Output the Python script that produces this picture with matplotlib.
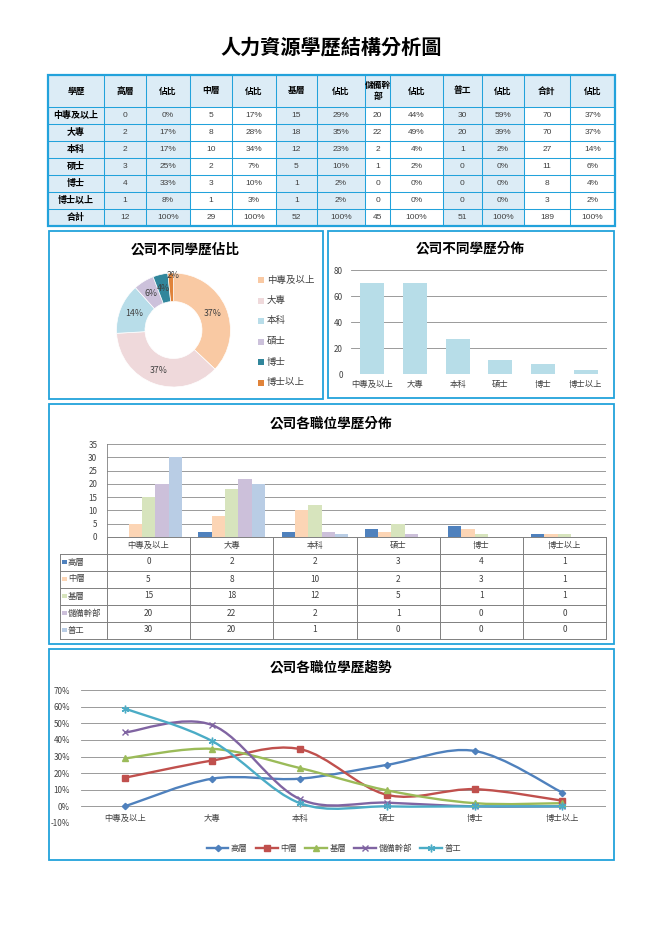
import matplotlib
matplotlib.use('Agg')
import matplotlib.pyplot as plt
from matplotlib.patches import Rectangle, PathPatch
from matplotlib.path import Path
from matplotlib.lines import Line2D
from matplotlib.ticker import PercentFormatter
import numpy as np

plt.rcParams['font.family'] = ['Noto Sans CJK TC', 'DejaVu Sans']
plt.rcParams['axes.unicode_minus'] = False

W, H = 662, 936

# ---------------- data ----------------
main_title = '人力資源學歷結構分析圖'
levels = ['中專及以上', '大專', '本科', '碩士', '博士', '博士以上']
positions = ['高層', '中層', '基層', '儲備幹部', '普工']
senior = [0, 2, 2, 3, 4, 1]
middle = [5, 8, 10, 2, 3, 1]
junior = [15, 18, 12, 5, 1, 1]
reserve = [20, 22, 2, 1, 0, 0]
worker = [30, 20, 1, 0, 0, 0]
level_totals = [70, 70, 27, 11, 8, 3]
header = ['學歷', '高層', '佔比', '中層', '佔比', '基層', '佔比', '儲備幹\n部', '佔比',
          '普工', '佔比', '合計', '佔比']
total_label = '合計'
pie_title = '公司不同學歷佔比'
bar_title = '公司不同學歷分佈'
cluster_title = '公司各職位學歷分佈'
line_title = '公司各職位學歷趨勢'
bar_yticks = [0, 20, 40, 60, 80]
cluster_yticks = [0, 5, 10, 15, 20, 25, 30, 35]
line_yticks = [-0.1, 0, 0.1, 0.2, 0.3, 0.4, 0.5, 0.6, 0.7]

series = [senior, middle, junior, reserve, worker]
pos_colors = ['#4F81BD', '#FCD5B5', '#D7E4BD', '#CCC0DA', '#B9CDE5']
line_colors = ['#4F81BD', '#C0504D', '#9BBB59', '#8064A2', '#4BACC6']
line_markers = ['D', 's', '^', 'x', (6, 2, 0)]
marker_sizes = [3.2, 3.8, 4.2, 4.5, 5.5]
pie_colors = ['#F9C9A3', '#EFD9DB', '#B8DDE9', '#CCC1DB', '#31869B', '#E0833A']

BLUE = '#22A2DB'
SHADE = '#DCECF6'
GRAY = '#808080'
TXT = '#404040'

fig = plt.figure(figsize=(W / 100, H / 100), dpi=100)
bg = fig.add_axes([0, 0, 1, 1])
bg.set_xlim(0, W)
bg.set_ylim(H, 0)
bg.axis('off')


def px_axes(x0, y0, x1, y1):
    a = fig.add_axes([x0 / W, 1 - y1 / H, (x1 - x0) / W, (y1 - y0) / H])
    a.set_facecolor('none')
    return a


def pct(v, t):
    return f'{round(v * 100 / t)}%'


# ---------------- title ----------------
bg.text(331, 47, main_title, ha='center', va='center', fontsize=14.5,
        fontweight='bold', color='black')

# ---------------- table ----------------
col_x = [48, 104, 146, 190, 232, 276, 317, 365, 390, 443, 482, 524, 570, 615]
row_y = [75, 107, 124, 141, 158, 175, 192, 209, 226]
shaded_cols = {0, 1, 2, 5, 6, 9, 10}

rows = []
col_totals = [sum(s) for s in series]
grand = sum(level_totals)
for i, lv in enumerate(levels):
    r = [lv]
    for s, t in zip(series, col_totals):
        r += [str(s[i]), pct(s[i], t)]
    r += [str(level_totals[i]), pct(level_totals[i], grand)]
    rows.append(r)
r = [total_label]
for t in col_totals:
    r += [str(t), '100%']
r += [str(grand), '100%']
rows.append(r)

for c in range(len(col_x) - 1):
    x0, x1 = col_x[c], col_x[c + 1]
    bg.add_patch(Rectangle((x0, row_y[0]), x1 - x0, row_y[1] - row_y[0],
                           facecolor=SHADE, edgecolor='none'))
    bg.text((x0 + x1) / 2, (row_y[0] + row_y[1]) / 2, header[c], ha='center',
            va='center', fontsize=6.3, fontweight='bold', color='black',
            linespacing=1.2)
    for ri, row in enumerate(rows):
        y0, y1 = row_y[ri + 1], row_y[ri + 2]
        if c in shaded_cols:
            bg.add_patch(Rectangle((x0, y0), x1 - x0, y1 - y0,
                                   facecolor=SHADE, edgecolor='none'))
        if c == 0:
            bg.text((x0 + x1) / 2, (y0 + y1) / 2, row[c], ha='center', va='center',
                    fontsize=6.5, fontweight='bold', color='black')
        else:
            bg.text((x0 + x1) / 2, (y0 + y1) / 2 + 0.3, row[c], ha='center',
                    va='center', fontsize=6.0, color=TXT,
                    family=['Liberation Sans', 'DejaVu Sans'])
for x in col_x[1:-1]:
    bg.plot([x, x], [row_y[0], row_y[-1]], color=BLUE, lw=0.75)
for y in row_y[1:-1]:
    bg.plot([col_x[0], col_x[-1]], [y, y], color=BLUE, lw=0.75)
bg.add_patch(Rectangle((col_x[0], row_y[0]), col_x[-1] - col_x[0],
                       row_y[-1] - row_y[0], facecolor='none', edgecolor=BLUE, lw=1.6))

# ---------------- panels ----------------
for (x0, y0, x1, y1) in [(49, 231, 323, 399), (328, 231, 614, 398),
                         (49, 404, 614, 644), (49, 649, 614, 860)]:
    bg.add_patch(Rectangle((x0, y0), x1 - x0, y1 - y0, facecolor='none',
                           edgecolor=BLUE, lw=1.3))

# ---------------- pie (donut) ----------------
bg.text(185, 249, pie_title, ha='center', va='center', fontsize=9.8,
        fontweight='bold', color='black')
axp = px_axes(116.5, 273, 230.5, 387)
wedges, texts, autotexts = axp.pie(
    level_totals, colors=pie_colors, startangle=90, counterclock=False,
    radius=1, wedgeprops=dict(width=0.5, edgecolor='white', linewidth=0.5),
    autopct=lambda p: f'{p:.0f}%', pctdistance=0.75,
    textprops=dict(fontsize=6.3, color=TXT))
# the smallest slice's label sits near the outer rim, as in the reference
last = wedges[-1]
ang = np.deg2rad((last.theta1 + last.theta2) / 2)
autotexts[-1].set_position((0.95 * np.cos(ang) + 0.04, 0.95 * np.sin(ang)))
axp.set_xlim(-1, 1)
axp.set_ylim(-1, 1)
axp.set_aspect('equal')
leg_y = [280, 300.5, 321, 341.5, 362, 382.5]
for i, lv in enumerate(levels):
    bg.add_patch(Rectangle((258, leg_y[i] - 3), 6, 6, facecolor=pie_colors[i],
                           edgecolor='none'))
    bg.text(267, leg_y[i], lv, ha='left', va='center', fontsize=6.8, color=TXT)

# ---------------- single bar ----------------
bg.text(470, 248, bar_title, ha='center', va='center', fontsize=9.8,
        fontweight='bold', color='black')
axb = px_axes(351, 270, 607, 374)
xs = np.arange(len(levels))
axb.bar(xs, level_totals, width=0.56, color='#B7DDE8', zorder=3)
axb.set_xlim(-0.5, len(levels) - 0.5)
axb.set_ylim(0, 80)
axb.set_yticks(bar_yticks)
axb.set_xticks(xs)
axb.set_xticklabels(levels)
axb.grid(axis='y', color='#8A8A8A', lw=0.6, zorder=0)
for s in axb.spines.values():
    s.set_visible(False)
axb.tick_params(axis='both', length=0, labelsize=5.8, colors=TXT, pad=6)
axb.tick_params(axis='x', pad=4, labelsize=6)

# ---------------- clustered bar with data table ----------------
bg.text(331, 423, cluster_title, ha='center', va='center', fontsize=9.8,
        fontweight='bold', color='black')
cx0, cx1 = 107, 606
axc = px_axes(cx0, 444, cx1, 537)
bw = 0.16
for j, (s, col) in enumerate(zip(series, pos_colors)):
    axc.bar(xs + (j - 2) * bw, s, width=bw, color=col, zorder=3)
axc.set_xlim(-0.5, len(levels) - 0.5)
axc.set_ylim(0, 35)
axc.set_yticks(cluster_yticks)
axc.set_xticks([])
axc.grid(axis='y', color='#8A8A8A', lw=0.6, zorder=0)
for k, s in axc.spines.items():
    s.set_visible(k == 'left')
axc.spines['left'].set_color(GRAY)
axc.spines['left'].set_linewidth(0.6)
axc.tick_params(axis='y', length=0, labelsize=5.8, colors=TXT, pad=7)

cw = (cx1 - cx0) / len(levels)
ty = [537, 553.5, 570.5, 587.5, 604.5, 621.5, 638.5]
lab_x0 = 60
bg.plot([cx0, cx1], [ty[0], ty[0]], color=GRAY, lw=0.7)
for y in ty[1:]:
    bg.plot([lab_x0, cx1], [y, y], color=GRAY, lw=0.7)
for k in range(len(levels) + 1):
    x = cx0 + k * cw
    bg.plot([x, x], [ty[0], ty[-1]], color=GRAY, lw=0.7)
bg.plot([lab_x0, lab_x0], [ty[1], ty[-1]], color=GRAY, lw=0.7)
for i, lv in enumerate(levels):
    bg.text(cx0 + (i + 0.5) * cw, (ty[0] + ty[1]) / 2, lv, ha='center', va='center',
            fontsize=6, color=TXT)
for j, (name, s) in enumerate(zip(positions, series)):
    yc = (ty[j + 1] + ty[j + 2]) / 2
    bg.add_patch(Rectangle((62, yc - 2.5), 4.5, 4.5, facecolor=pos_colors[j],
                           edgecolor='none'))
    bg.text(68, yc, name, ha='left', va='center', fontsize=6, color=TXT)
    for i in range(len(levels)):
        bg.text(cx0 + (i + 0.5) * cw, yc, str(s[i]), ha='center', va='center',
                fontsize=6, color=TXT)

# ---------------- smoothed lines ----------------
bg.text(331, 667, line_title, ha='center', va='center', fontsize=9.8,
        fontweight='bold', color='black')
axl = px_axes(81, 690, 606, 823)


def smooth_path(x, y):
    pts = np.column_stack([x, y]).astype(float)
    n = len(pts)
    verts = [pts[0]]
    codes = [Path.MOVETO]
    for i in range(n - 1):
        p0 = pts[i - 1] if i > 0 else pts[i]
        p1, p2 = pts[i], pts[i + 1]
        p3 = pts[i + 2] if i + 2 < n else pts[i + 1]
        verts += [p1 + (p2 - p0) / 6, p2 - (p3 - p1) / 6, p2]
        codes += [Path.CURVE4] * 3
    return Path(verts, codes)


handles = []
for j, (name, s, t) in enumerate(zip(positions, series, col_totals)):
    share = np.array(s) / t
    axl.add_patch(PathPatch(smooth_path(xs, share), facecolor='none',
                            edgecolor=line_colors[j], lw=1.7, zorder=3))
    mk = line_markers[j]
    axl.plot(xs, share, ls='none', marker=mk, ms=marker_sizes[j],
             color=line_colors[j], mec=line_colors[j], mew=1.0, zorder=4)
    handles.append(Line2D([], [], color=line_colors[j], lw=1.7, marker=mk,
                          ms=marker_sizes[j], mew=1.0, label=name))
axl.set_xlim(-0.5, len(levels) - 0.5)
axl.set_ylim(-0.1, 0.7)
axl.set_yticks(line_yticks)
axl.yaxis.set_major_formatter(PercentFormatter(1.0, decimals=0))
axl.set_xticks([])
axl.grid(axis='y', color='#8A8A8A', lw=0.6, zorder=0)
for s in axl.spines.values():
    s.set_visible(False)
axl.tick_params(axis='y', length=0, labelsize=5.8, colors=TXT, pad=8)
for i, lv in enumerate(levels):
    axl.annotate(lv, (i, 0), xytext=(0, -5.5), textcoords='offset points',
                 ha='center', va='top', fontsize=6, color=TXT)
fig.legend(handles=handles, loc='center', bbox_to_anchor=(334 / W, 1 - 848 / H),
           ncol=5, frameon=False, fontsize=6, handlelength=2.6,
           columnspacing=1.0, handletextpad=0.3, labelcolor=TXT)

fig.savefig('out.png', dpi=100)
